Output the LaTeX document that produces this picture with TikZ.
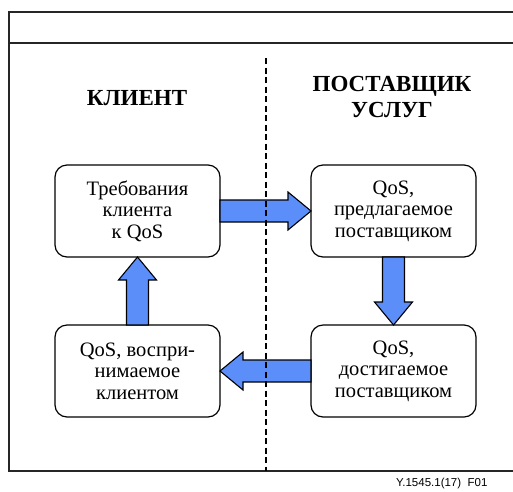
\documentclass[tikz,border=0pt]{standalone}
\usepackage{fontspec}
\setmainfont{Liberation Serif}
\newfontfamily\figfont{Liberation Sans}
\usetikzlibrary{positioning,calc}
\definecolor{flowblue}{RGB}{92,142,250}

% block arrow from one box to the next
\newcommand{\flowarrow}[2]{%
  \coordinate (h) at ($(#2)!23pt!(#1)$);
  \draw[flowarrow] ($(#1)!11pt!90:(#2)$) -- ($(h)!11pt!90:(#2)$)
    -- ($(h)!19pt!90:(#2)$) -- (#2) -- ($(h)!19pt!-90:(#2)$)
    -- ($(h)!11pt!-90:(#2)$) -- ($(#1)!11pt!-90:(#2)$) -- cycle;
}

\begin{document}
\begin{tikzpicture}[
    x=1pt, y=-1pt,
    box/.style={rectangle, rounded corners=12pt, draw=black, line width=1.2pt,
      minimum width=165pt, minimum height=92pt, inner sep=0pt, outer sep=0pt,
      align=center, font=\rmfamily\fontsize{20.5}{21.5}\selectfont},
    head/.style={align=center, inner sep=0pt, font=\rmfamily\bfseries\fontsize{23}{26}\selectfont},
    frame/.style={draw=black!85, line width=1.8pt},
    divider/.style={draw=black, line width=1.8pt, dash pattern=on 6pt off 3.5pt},
    flowarrow/.style={draw=black, line width=1.1pt, fill=flowblue, line join=miter}
]
\useasboundingbox (0,0) rectangle (513,491);
\clip (0,0) rectangle (513,491);

\draw[frame] (9,12) rectangle (540,471);
\draw[frame] (9,43) -- (540,43);

\node[head, anchor=base] (client) at (137,105) {КЛИЕНТ};
\node[head] (provider) at (392,97) {ПОСТАВЩИК\\УСЛУГ};

\node[box] (req) at (137.5,211) {Требования\\клиента\\к QoS};
\node[box, right=91pt of req] (offered) {QoS,\\предлагаемое\\поставщиком};
\node[box, below=68pt of offered] (achieved) {QoS,\\достигаемое\\поставщиком};
\node[box, below=68pt of req] (perceived) {QoS, воспри-\\нимаемое\\клиентом};

\flowarrow{req.east}{offered.west}
\flowarrow{offered.south}{achieved.north}
\flowarrow{achieved.west}{perceived.east}
\flowarrow{perceived.north}{req.south}

\draw[divider] (266,58) -- (266,471);

\node[anchor=base west, inner sep=0pt, font=\figfont\fontsize{11.5}{12}\selectfont]
  (figid) at (396,486) {Y.1545.1(17)\ \ F01};
\end{tikzpicture}
\end{document}
